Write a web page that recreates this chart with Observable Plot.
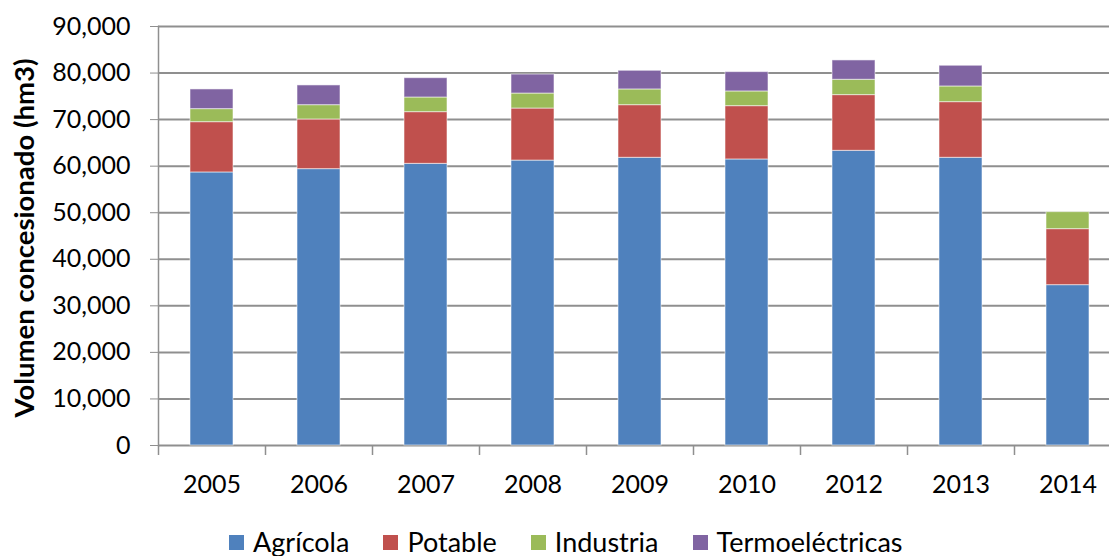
<!DOCTYPE html>
<html>
<head>
<meta charset="utf-8">
<script src="https://cdn.jsdelivr.net/npm/d3@7"></script>
<script src="https://cdn.jsdelivr.net/npm/@observablehq/plot@0.6"></script>
<style>
  html, body { margin: 0; padding: 0; background: #fff; overflow: hidden; }
  #wrap { position: relative; width: 1109px; height: 556px; font-family: Lato, "Open Sans", sans-serif; }
  #legend { position: absolute; left: 229px; top: 530px; display: flex; align-items: center; font-size: 27px; line-height: 24px; color: #000; white-space: nowrap; }
  #legend .item { display: inline-flex; align-items: center; margin-right: 34px; }
  #legend .sw { width: 15px; height: 15px; margin-right: 9px; display: inline-block; }
</style>
</head>
<body>
<div id="wrap"><div id="chart"></div><div id="legend"></div></div>
<script>
const years = ["2005", "2006", "2007", "2008", "2009", "2010", "2012", "2013", "2014"];
const seriesNames = ["Agrícola", "Potable", "Industria", "Termoeléctricas"];
const seriesColors = ["#4F81BD", "#C0504D", "#9BBB59", "#8064A2"];
const agricola = [58650, 59360, 60500, 61200, 61800, 61440, 63300, 61800, 34440];
const potable = [10800, 10670, 11100, 11180, 11300, 11450, 11960, 11950, 12030];
const industria = [2800, 3070, 3150, 3220, 3380, 3160, 3300, 3370, 3650];
const termo = [4230, 4240, 4150, 4080, 4010, 4150, 4150, 4450, 0];
const yTicks = [0, 10000, 20000, 30000, 40000, 50000, 60000, 70000, 80000, 90000];
const yTitle = "Volumen concesionado (hm3)";

const seriesValues = [agricola, potable, industria, termo];
const data = [];
seriesNames.forEach((s, si) => {
  years.forEach((y, yi) => data.push({year: y, series: s, value: seriesValues[si][yi]}));
});

const chart = Plot.plot({
  width: 1109,
  height: 510,
  marginLeft: 158,
  marginRight: -12,
  marginTop: 26,
  marginBottom: 65,
  style: {fontFamily: "Lato, 'Open Sans', sans-serif", fontSize: "25px", color: "#000", background: "transparent"},
  x: {domain: years, paddingInner: 0.6, paddingOuter: 0.3, axis: null},
  y: {domain: [0, 90000], axis: null},
  color: {domain: seriesNames, range: seriesColors},
  marks: [
    Plot.ruleY(yTicks, {stroke: "#8f8f8f", strokeWidth: 2}),
    Plot.frame({anchor: "left", stroke: "#8f8f8f", strokeWidth: 1.5}),
    Plot.ruleX(years, {x: d => d, y1: 0, y2: 0, insetBottom: -10, dx: -53.5, stroke: "#8f8f8f", strokeWidth: 1.5}),
    Plot.barY(data, {x: "year", y: "value", fill: "series", stroke: "white", strokeOpacity: 0.55, strokeWidth: 1}),
    Plot.axisY({ticks: yTicks, tickFormat: d3.format(","), tickSize: 8, tickPadding: 20, stroke: "#8f8f8f", fill: "#000", fontSize: 25, label: null}),
    Plot.axisX({tickSize: 0, tickPadding: 30, fill: "#000", fontSize: 25, label: null}),
    Plot.text([yTitle], {frameAnchor: "left", textAnchor: "middle", rotate: -90, dx: -133, dy: 2, fontWeight: "bold", fontSize: 27.5, fill: "#000"})
  ]
});
document.getElementById("chart").appendChild(chart);

const legend = document.getElementById("legend");
seriesNames.forEach((s, i) => {
  const item = document.createElement("span");
  item.className = "item";
  const sw = document.createElement("span");
  sw.className = "sw";
  sw.style.background = seriesColors[i];
  item.appendChild(sw);
  item.appendChild(document.createTextNode(s));
  legend.appendChild(item);
});
</script>
</body>
</html>
